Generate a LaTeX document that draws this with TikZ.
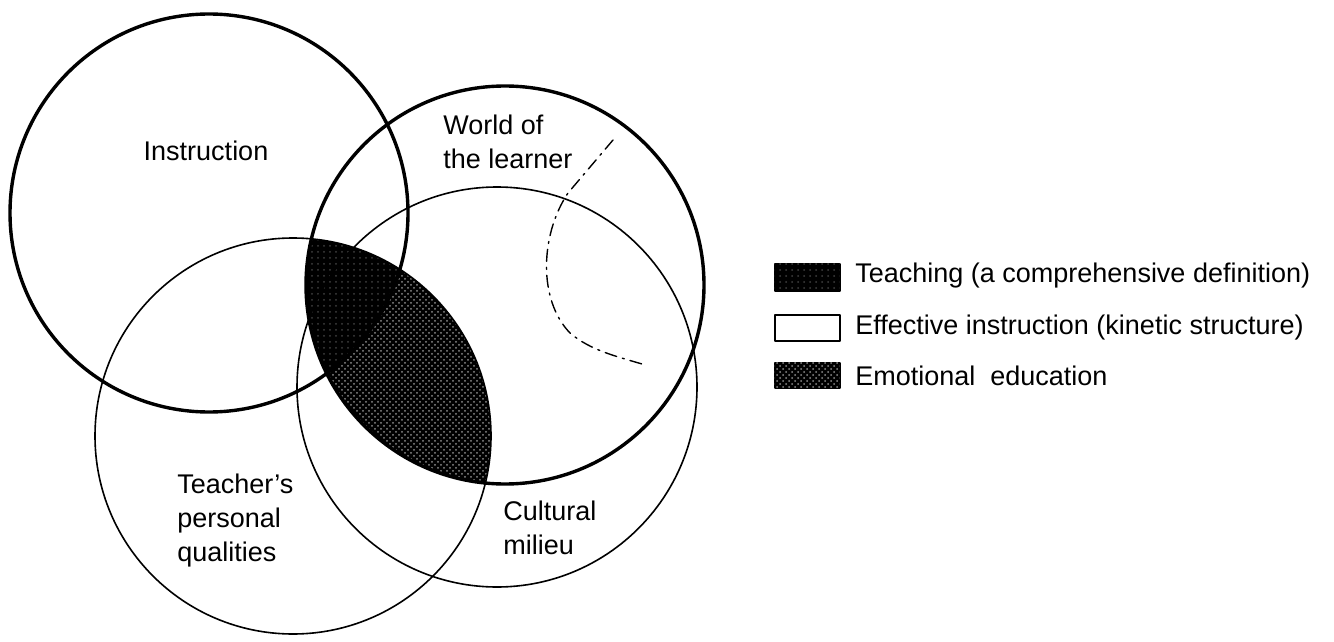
\documentclass[tikz,border=0pt]{standalone}
\usepackage{fontspec}
\setmainfont{Liberation Sans}
\usetikzlibrary{patterns}
\tikzset{
  thickring/.style={line width=1.7pt},
  thinring/.style={line width=0.8pt},
  lbl/.style={inner sep=0,align=left,anchor=west},
  swatch/.style={draw,line width=1pt,minimum width=32.5pt,minimum height=13.5pt,inner sep=0},
  emofill/.style={fill=black,postaction={pattern=crosshatch dots,pattern color=black!45}},
  teachfill/.style={fill=black,postaction={pattern=dots,pattern color=black!75}}
}
\begin{document}
\begin{tikzpicture}[x=0.5pt,y=-0.5pt,line join=round,line cap=round,font=\fontsize{13.5}{17}\selectfont]
\useasboundingbox (0,0) rectangle (1334,642);
%centres of the four circles
\coordinate (ins) at (209,213);
\coordinate (wor) at (505,285);
\coordinate (tea) at (293,436);
\coordinate (cul) at (497,387);
%shaded lens
\begin{scope}
  \clip (tea) circle (198);
  \path[emofill] (wor) circle (199);
\end{scope}
\begin{scope}
  \clip (tea) circle (198);
  \clip (wor) circle (199);
  \path[teachfill] (ins) circle (199);
\end{scope}
%circles
\draw[thickring] (ins) circle (199);
\draw[thickring] (wor) circle (199);
\draw[thinring] (tea) circle (198);
\draw[thinring] (cul) circle (200);
%dash-dot mark inside the world of the learner
\draw[line width=0.7pt,dash pattern=on 6pt off 3pt on 1pt off 3pt]
  (613,140)--(568,193) .. controls (540,235) and (538,300) .. (570,333)
  .. controls (590,350) and (615,356) .. (642,364);
%labels
\node[lbl,anchor=center] (instruction) at (206,151) {Instruction};
\node[lbl] (world) at (443,142) {World of\\the learner};
\node[lbl] (teacher) at (177,521) {Teacher's\\personal\\qualities};
\node[lbl] (cultural) at (503,528) {Cultural\\milieu};
%legend
\node[swatch,teachfill] (sw1) at (807,277) {};
\node[swatch,fill=white,minimum height=13pt] (sw2) at (807,328) {};
\node[swatch,emofill,minimum height=12.5pt] (sw3) at (807,375) {};
\node[lbl] (t1) at (855,276) {Teaching (a comprehensive definition)};
\node[lbl] (t2) at (855,328) {Effective instruction (kinetic structure)};
\node[lbl] (t3) at (855,376) {Emotional\ \ education};
\end{tikzpicture}
\end{document}
